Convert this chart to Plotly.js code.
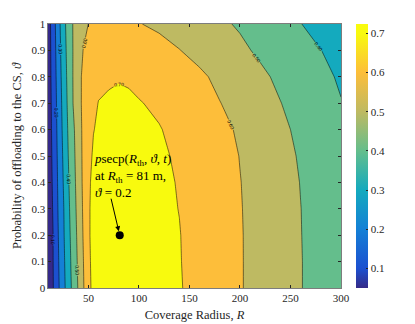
<!DOCTYPE html>
<html>
<head>
<meta charset="utf-8">
<script src="https://cdn.plot.ly/plotly-3.0.1.min.js"></script>
<style>
  html, body { margin: 0; padding: 0; background: #fff; }
  #chart { width: 415px; height: 324px; }
</style>
</head>
<body>
<div id="chart"></div>
<script>
// coverage radius R (x) and offloading probability theta (y)
var radius = [10, 15, 20, 25, 30, 35, 40, 45, 50, 55, 60, 70, 80, 90, 100, 120, 140, 160, 180, 200, 220, 240, 260, 280, 300];
var theta = [0, 0.1, 0.2, 0.3, 0.4, 0.5, 0.6, 0.7, 0.8, 0.9, 1];

// p_secp, one row per theta value
var pSecp = [
  [0.05, 0.095, 0.182, 0.267, 0.350, 0.431, 0.508, 0.590, 0.685, 0.715, 0.718, 0.721, 0.723, 0.723, 0.722, 0.715, 0.705, 0.675, 0.645, 0.605, 0.575, 0.540, 0.503, 0.470, 0.440],
  [0.05, 0.098, 0.189, 0.275, 0.359, 0.440, 0.517, 0.598, 0.689, 0.716, 0.720, 0.723, 0.724, 0.724, 0.723, 0.716, 0.703, 0.675, 0.645, 0.605, 0.575, 0.540, 0.503, 0.470, 0.440],
  [0.05, 0.099, 0.196, 0.283, 0.369, 0.448, 0.526, 0.607, 0.692, 0.718, 0.721, 0.724, 0.724, 0.724, 0.723, 0.716, 0.702, 0.674, 0.644, 0.605, 0.574, 0.539, 0.502, 0.468, 0.438],
  [0.05, 0.105, 0.204, 0.288, 0.379, 0.457, 0.535, 0.613, 0.692, 0.718, 0.721, 0.724, 0.724, 0.723, 0.722, 0.713, 0.699, 0.671, 0.642, 0.604, 0.572, 0.537, 0.501, 0.467, 0.436],
  [0.05, 0.110, 0.211, 0.299, 0.389, 0.466, 0.544, 0.618, 0.689, 0.716, 0.720, 0.723, 0.724, 0.723, 0.721, 0.711, 0.697, 0.668, 0.639, 0.602, 0.570, 0.535, 0.498, 0.465, 0.434],
  [0.05, 0.116, 0.218, 0.309, 0.399, 0.474, 0.552, 0.619, 0.667, 0.714, 0.718, 0.722, 0.723, 0.721, 0.719, 0.708, 0.693, 0.662, 0.633, 0.598, 0.566, 0.528, 0.492, 0.460, 0.430],
  [0.05, 0.122, 0.226, 0.319, 0.409, 0.482, 0.560, 0.619, 0.658, 0.697, 0.714, 0.719, 0.720, 0.718, 0.715, 0.703, 0.684, 0.655, 0.622, 0.589, 0.558, 0.518, 0.482, 0.452, 0.424],
  [0.05, 0.128, 0.234, 0.328, 0.420, 0.504, 0.573, 0.618, 0.647, 0.676, 0.703, 0.710, 0.712, 0.709, 0.703, 0.690, 0.672, 0.643, 0.602, 0.573, 0.540, 0.502, 0.467, 0.434, 0.403],
  [0.05, 0.135, 0.242, 0.338, 0.428, 0.506, 0.565, 0.623, 0.645, 0.660, 0.674, 0.690, 0.696, 0.693, 0.685, 0.668, 0.645, 0.614, 0.582, 0.553, 0.518, 0.482, 0.450, 0.420, 0.390],
  [0.05, 0.142, 0.251, 0.349, 0.435, 0.505, 0.555, 0.603, 0.618, 0.628, 0.636, 0.645, 0.648, 0.647, 0.643, 0.628, 0.602, 0.575, 0.548, 0.518, 0.485, 0.455, 0.428, 0.401, 0.375],
  [0.05, 0.150, 0.260, 0.360, 0.443, 0.506, 0.538, 0.571, 0.601, 0.608, 0.612, 0.616, 0.615, 0.610, 0.603, 0.585, 0.565, 0.543, 0.515, 0.490, 0.463, 0.435, 0.402, 0.370, 0.340]
];

// marked point
var markR = [81];
var markTheta = [0.2];

var xTicks = [50, 100, 150, 200, 250, 300];
var yTicks = [0, 0.1, 0.2, 0.3, 0.4, 0.5, 0.6, 0.7, 0.8, 0.9, 1];
var cbTicks = [0.1, 0.2, 0.3, 0.4, 0.5, 0.6, 0.7];
var levels = [0.1, 0.2, 0.3, 0.4, 0.5, 0.6, 0.7];

var zMin = 0.05, zMax = 0.724;

// parula-like colours for each filled band (lower level colour, as matlab does)
var bandColors = ['#35298a', '#1c50d0', '#1480d6', '#14aabe', '#64be8c', '#beba62', '#fdbe3a', '#f8fa0e'];
// plotly colours band k at colorscale position k/7 for 7 levels
var bandScale = bandColors.map(function(c, i) { return [i / (bandColors.length - 1), c]; });

function norm(v) { return (v - zMin) / (zMax - zMin); }
var barScale = [[0, '#352a87']];
levels.forEach(function(l, i) { barScale.push([norm(l), bandColors[i + 1]]); });
barScale.push([1, '#f9fb0e']);

var serif = '"Liberation Serif", "Times New Roman", serif';
var axCol = '#262626';

var contour = {
  type: 'contour',
  x: radius,
  y: theta,
  z: pSecp,
  autocontour: false,
  contours: {
    start: levels[0], end: levels[levels.length - 1], size: 0.1,
    coloring: 'fill',
    showlabels: true,
    labelformat: '.2f',
    labelfont: {family: 'Liberation Sans, Arial, sans-serif', size: 5, color: '#000'}
  },
  line: {color: '#000', width: 0.5, smoothing: 0},
  colorscale: bandScale,
  showscale: false,
  hoverinfo: 'skip'
};

var bar = {
  type: 'scatter',
  mode: 'markers',
  x: markR,
  y: markTheta,
  marker: {
    color: [0.5],
    opacity: 0,
    cmin: zMin,
    cmax: zMax,
    colorscale: barScale,
    showscale: true,
    colorbar: {
      x: 1.051, xanchor: 'left', xpad: 0,
      y: 0.5, yanchor: 'middle', ypad: 0,
      len: 1, lenmode: 'fraction',
      thickness: 12,
      outlinewidth: 0,
      tickvals: cbTicks,
      ticks: 'inside', ticklen: 2, tickcolor: axCol,
      tickfont: {family: serif, size: 11, color: axCol}
    }
  },
  hoverinfo: 'skip',
  showlegend: false
};

var dot = {
  type: 'scatter',
  mode: 'markers',
  x: markR,
  y: markTheta,
  marker: {color: '#000', size: 8},
  hoverinfo: 'skip',
  showlegend: false
};

var layout = {
  width: 415,
  height: 324,
  margin: {l: 48, r: 74, t: 24, b: 36},
  paper_bgcolor: '#fff',
  plot_bgcolor: '#fff',
  showlegend: false,
  font: {family: serif, color: axCol},
  xaxis: {
    range: [10, 300],
    tickvals: xTicks,
    ticks: 'inside', ticklen: 3, tickcolor: axCol,
    showline: true, mirror: 'ticks', linecolor: axCol, linewidth: 0.6,
    showgrid: false, zeroline: false,
    tickfont: {family: serif, size: 11, color: axCol},
    title: {text: 'Coverage Radius, <i>R</i>', font: {family: serif, size: 12.5, color: axCol}, standoff: 7}
  },
  yaxis: {
    range: [0, 1],
    tickvals: yTicks,
    ticks: 'inside', ticklen: 3, tickcolor: axCol,
    showline: true, mirror: 'ticks', linecolor: axCol, linewidth: 0.6,
    showgrid: false, zeroline: false,
    tickfont: {family: serif, size: 11, color: axCol},
    title: {text: 'Probability of offloading to the CS, <i>ϑ</i>', font: {family: serif, size: 12.5, color: axCol}, standoff: 6}
  },
  annotations: [
    {
      x: markR[0], y: markTheta[0], xref: 'x', yref: 'y',
      ax: -9, ay: -38,
      text: '',
      showarrow: true, arrowhead: 2, arrowsize: 1, arrowwidth: 1, arrowcolor: '#000',
      standoff: 4
    },
    {
      x: 54, y: 0.525, xref: 'x', yref: 'y',
      xanchor: 'left', yanchor: 'top', align: 'left',
      showarrow: false,
      text: '<i>p</i>secp(<i>R</i><sub>th</sub>, <i>ϑ</i>, <i>t</i>)<br>at <i>R</i><sub>th</sub> = 81 m,<br><i>ϑ</i> = 0.2',
      font: {family: serif, size: 13, color: '#000'}
    }
  ]
};

Plotly.newPlot('chart', [contour, bar, dot], layout, {staticPlot: true, displayModeBar: false});
</script>
</body>
</html>
